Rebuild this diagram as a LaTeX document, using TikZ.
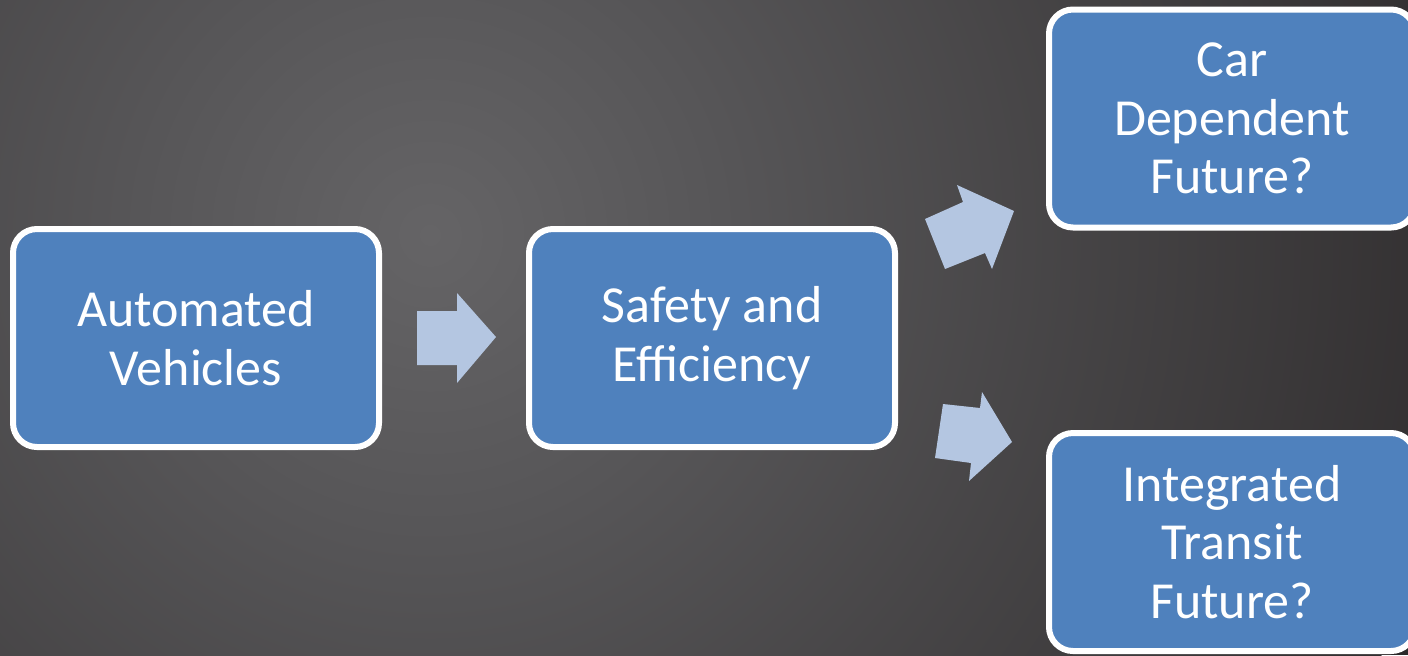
\documentclass[tikz,border=0pt]{standalone}
\usepackage{fontspec}
\setmainfont{Carlito}
\definecolor{boxblue}{HTML}{4F81BD}
\definecolor{arrowblue}{HTML}{B4C6E1}
\definecolor{bgin}{HTML}{656466}
\definecolor{bgmid}{HTML}{575658}
\definecolor{bgout}{HTML}{2C292A}
\pgfdeclareradialshading{bgshade}{\pgfpoint{0bp}{0bp}}{color(0bp)=(bgin); color(7bp)=(bgmid); color(28bp)=(bgout); color(50bp)=(bgout)}
\tikzset{
  stagebox/.style={draw=white, line width=3pt, fill=boxblue, rounded corners=12pt,
    minimum width=183pt, minimum height=109pt, align=center, text=white,
    font=\fontsize{26pt}{29.3pt}\selectfont, inner sep=0pt},
  blockarrow/.style={fill=arrowblue, draw=none}
}
\begin{document}
\begin{tikzpicture}[x=0.5pt,y=-0.5pt]
\clip (0,0) rectangle (1408,655);
\fill[bgout] (0,0) rectangle (1408,655);
\shade[shading=bgshade] (430,235) circle [radius=520pt];
\node[stagebox] (av) at (196,338) {Automated\\Vehicles};
\node[stagebox] (se) at (712,338) {Safety and\\Efficiency};
\node[stagebox] (cd) at (1232,118.5) {Car\\Dependent\\Future?};
\node[stagebox] (it) at (1232,542) {Integrated\\Transit\\Future?};
% block arrows
\fill[blockarrow] (417,311) -- (457,311) -- (457,293) -- (496,337) -- (457,383) -- (457,365) -- (417,365) -- cycle;
\fill[blockarrow] (925,219) -- (963,202) -- (957,185) -- (1014,211) -- (992,269) -- (985,253) -- (945,269) -- cycle;
\fill[blockarrow] (943,404) -- (980,408) -- (982,392) -- (1012,442) -- (969,481) -- (971,463) -- (935,458) -- cycle;
\end{tikzpicture}
\end{document}
